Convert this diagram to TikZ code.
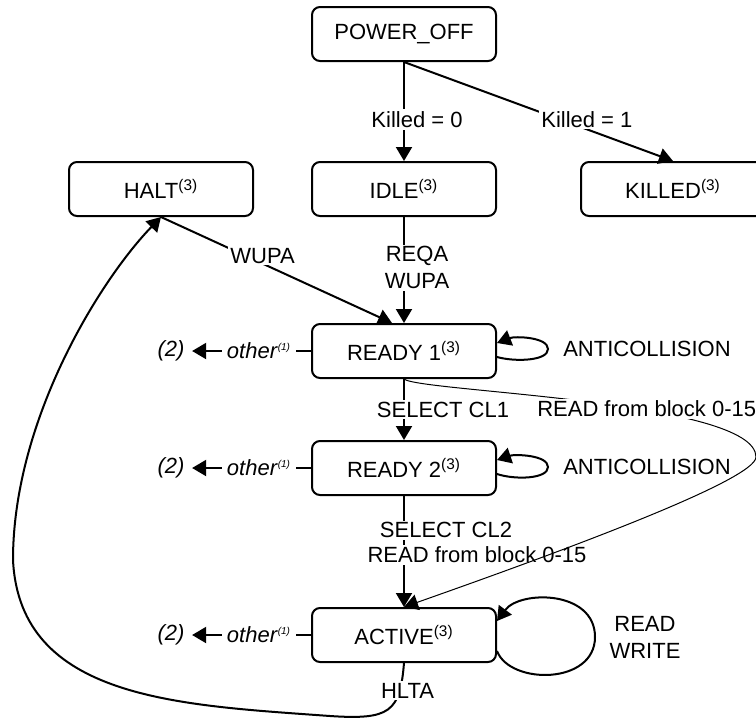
\documentclass[tikz,border=0pt]{standalone}
\usepackage{fontspec}
\setmainfont{Liberation Sans}
\usetikzlibrary{arrows.meta}
\newcommand{\nthree}{\textsuperscript{(3)}}
\newcommand{\oneother}{\textit{other}\textsuperscript{\tiny\itshape(1)}}
\begin{document}
\begin{tikzpicture} [x=0.5pt,y=-0.5pt,line width=1pt,font=\fontsize{11}{13.5}\selectfont,
        >={Triangle[length=7pt,width=8pt]},
        state/.style={draw,rounded corners=4pt,minimum width=92pt,minimum height=27pt},
        lbl/.style={fill=white,inner sep=1pt,align=center}]
        \useasboundingbox (0,0) rectangle (756,720);
        \node[state] (pwr) at (404,34) {POWER\_OFF};
        \node[state] (halt) at (161,189) {HALT\nthree};
        \node[state] (idle) at (404,189) {IDLE\nthree};
        \node[state] (kill) at (673,189) {KILLED\nthree};
        \node[state] (r1) at (404,351) {READY 1\nthree};
        \node[state] (r2) at (404,468) {READY 2\nthree};
        \node[state] (act) at (404,635) {ACTIVE\nthree};
        \node (anti1) at (647,349) {ANTICOLLISION};
        \node (anti2) at (647,467) {ANTICOLLISION};
        \node[align=center] (rw) at (645,637) {READ\\WRITE};
        \draw[->] (pwr) -- node[lbl,pos=.58,xshift=6.5pt] (k0) {Killed = 0} (idle);
        \draw[->] (pwr.south) -- node[lbl,pos=.68,yshift=5pt] (k1) {Killed = 1} (kill.north);
        \draw[->] (halt.south) -- node[lbl,pos=.44,yshift=4pt] (wu) {WUPA} ([xshift=-6pt]r1.north);
        \draw[->] (idle) -- node[lbl,pos=.48,xshift=6.5pt] (rq) {REQA\\WUPA} (r1);
        \draw[->] (r1) -- node[lbl,pos=.5,xshift=19.5pt] (cl1) {SELECT CL1} (r2);
        \draw[->] (r2) -- node[lbl,pos=.31,xshift=21pt] (cl2) {SELECT CL2}
                node[lbl,pos=.53,xshift=36.5pt] (rdlo) {READ from block 0-15} (act);
        \draw[->,line width=0.5pt] (r1.south) .. controls (420,392) and (756,400) .. (756,457)
                node[lbl,pos=.6,xshift=5pt] (rdup) {READ from block 0-15}
                .. controls (756,480) and (560,552) .. (act.north);
        \foreach \s/\y in {r1/349,r2/467}
        \draw[->] ([yshift=-3pt]\s.east) .. controls (515,\y+13) and (548,\y+12) .. (548,\y)
                .. controls (548,\y-12) and (515,\y-13) .. ([yshift=4pt]\s.east);
        \draw[->] ([yshift=-8pt]act.east) .. controls (510,685) and (595,685) .. (595,637)
                .. controls (595,590) and (520,590) .. ([yshift=7pt]act.east);
        \draw[->] (act.south) .. controls (400,712) and (390,720) .. (330,716)
                node[lbl,pos=.3,xshift=5pt,yshift=3pt] (hl) {HLTA}
                .. controls (180,705) and (20,700) .. (13,560)
                .. controls (13,420) and (100,280) .. (halt.south);
        \foreach \s in {r1,r2,act} {
        \node[inner sep=2pt] (oth\s) at ([xshift=-26pt]\s.west) {\oneother};
        \node (two\s) at ([xshift=-70pt]\s.west) {\textit{(2)}};
        \draw (\s) -- (oth\s);
        \draw[->] (oth\s) -- (two\s);
        }
\end{tikzpicture}
\end{document}
